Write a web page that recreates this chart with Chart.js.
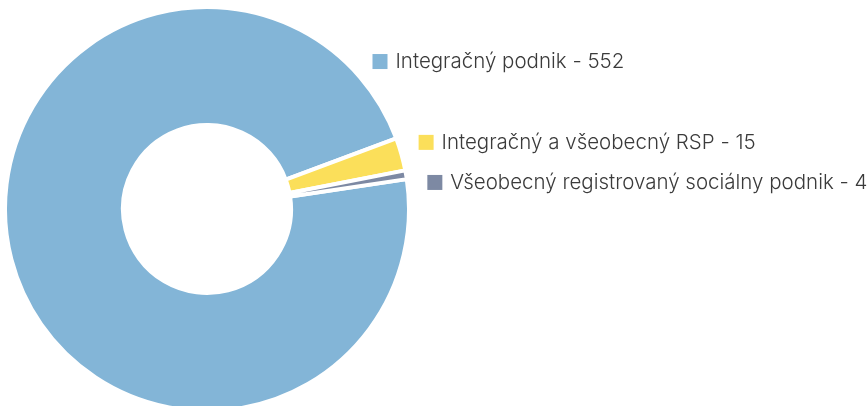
<!DOCTYPE html>
<html>
<head>
<meta charset="utf-8">
<script src="https://cdn.jsdelivr.net/npm/chart.js@4.4.1/dist/chart.umd.min.js"></script>
<style>
  html, body { margin: 0; padding: 0; background: #fff; overflow: hidden; }
  #wrap { width: 868px; height: 406px; }
</style>
</head>
<body>
<div id="wrap"><canvas id="chart"></canvas></div>
<script>
const categories = ['Integračný podnik', 'Integračný a všeobecný RSP', 'Všeobecný registrovaný sociálny podnik'];
const counts = [552, 15, 4];
const colors = ['#83b5d7', '#fbdf5a', '#7d89a3'];

// where each outside label sits (degrees, 0 = right, negative = up)
const labelAngles = [-41.8, -17.6, -7];

const outLabels = {
  id: 'outLabels',
  afterDraw(chart) {
    const ctx = chart.ctx;
    const arcs = chart.getDatasetMeta(0).data;
    ctx.save();
    ctx.font = '300 20.5px Inter, "Noto Sans", sans-serif';
    ctx.textBaseline = 'middle';
    arcs.forEach((arc, i) => {
      const a = labelAngles[i] * Math.PI / 180;
      const r = arc.outerRadius + 20;
      const x = arc.x + r * Math.cos(a);
      const y = arc.y + r * Math.sin(a);
      ctx.fillStyle = colors[i];
      ctx.fillRect(x, y - 7, 15, 15);
      ctx.fillStyle = '#3b3b3b';
      ctx.fillText(categories[i] + ' - ' + counts[i], x + 23, y + 1);
    });
    ctx.restore();
  }
};

new Chart(document.getElementById('chart'), {
  type: 'doughnut',
  data: {
    labels: categories,
    datasets: [{
      data: counts,
      backgroundColor: colors,
      borderColor: '#ffffff',
      borderWidth: 4,
      hoverOffset: 0,
      clip: false
    }]
  },
  options: {
    responsive: true,
    maintainAspectRatio: false,
    animation: false,
    rotation: 81.5,
    radius: 202,
    cutout: '41.6%',
    layout: { padding: { left: 0, right: 454, top: 12, bottom: 0 } },
    plugins: {
      legend: { display: false },
      tooltip: { enabled: false }
    }
  },
  plugins: [outLabels]
});
</script>
</body>
</html>
